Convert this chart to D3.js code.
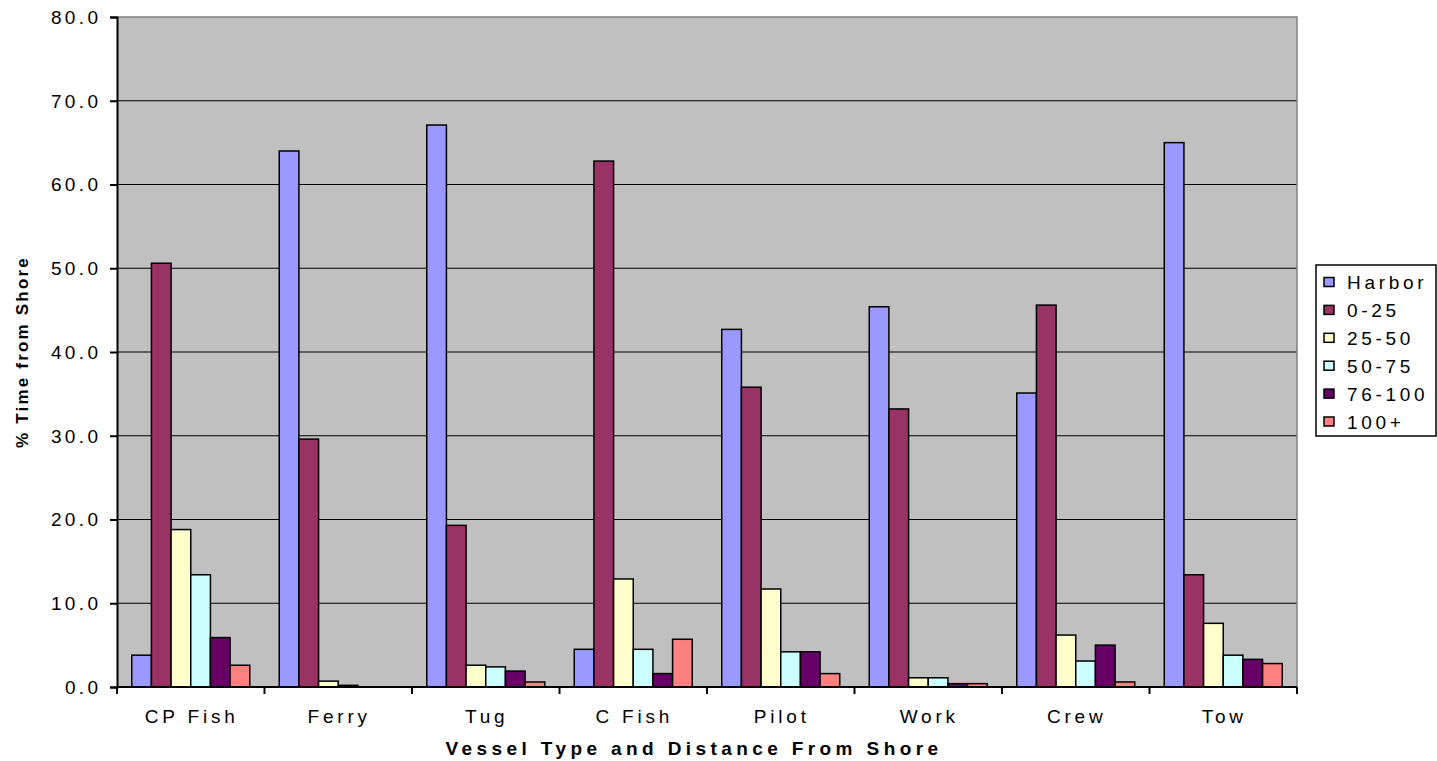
<!DOCTYPE html>
<html lang="en">
<head>
<meta charset="utf-8">
<script src="https://d3js.org/d3.v7.min.js"></script>
<style>
  body { margin: 0; background: #fff; }
  svg { display: block; font-family: Arial, "Liberation Sans", sans-serif; }
</style>
</head>
<body>
<svg id="chart" width="1437" height="761"></svg>
<script>
// vessel types along the x axis
const vessels = ["CP Fish", "Ferry", "Tug", "C Fish", "Pilot", "Work", "Crew", "Tow"];
// distance-from-shore series
const series = ["Harbor", "0-25", "25-50", "50-75", "76-100", "100+"];
const colors = ["#9999FF", "#993366", "#FFFFCC", "#CCFFFF", "#660066", "#FF8080"];

// % time values, one array per series, in vessel order
const harbor = [3.8, 64.0, 67.1, 4.5, 42.7, 45.4, 35.1, 65.0];
const d0_25 = [50.6, 29.6, 19.3, 62.8, 35.8, 33.2, 45.6, 13.4];
const d25_50 = [18.8, 0.7, 2.6, 12.9, 11.7, 1.1, 6.2, 7.6];
const d50_75 = [13.4, 0.2, 2.4, 4.5, 4.2, 1.1, 3.1, 3.8];
const d76_100 = [5.9, 0.0, 1.9, 1.6, 4.2, 0.4, 5.0, 3.3];
const d100p = [2.6, 0.0, 0.6, 5.7, 1.6, 0.4, 0.6, 2.8];

const yTicks = [0, 10, 20, 30, 40, 50, 60, 70, 80];

const values = [harbor, d0_25, d25_50, d50_75, d76_100, d100p];

const svg = d3.select("#chart");
const pLeft = 117, pRight = 1297, pTop = 17, pBottom = 687;

const x0 = d3.scaleBand().domain(vessels).range([pLeft, pRight]);
const bw = x0.bandwidth();
const x1 = d3.scaleBand().domain(series).range([bw * 0.1, bw * 0.9]);
const y = d3.scaleLinear().domain([0, 80]).range([pBottom, pTop]);

// plot background
svg.append("rect")
  .attr("x", pLeft).attr("y", pTop)
  .attr("width", pRight - pLeft).attr("height", pBottom - pTop)
  .attr("fill", "#C0C0C0");

// gridlines
svg.append("g").selectAll("line")
  .data(yTicks.filter(d => d > 0 && d < 80))
  .enter().append("line")
  .attr("x1", pLeft).attr("x2", pRight)
  .attr("y1", d => y(d)).attr("y2", d => y(d))
  .attr("stroke", "#000").attr("stroke-width", 1.2);

// top + right border of plot area
svg.append("path")
  .attr("d", `M${pLeft},${pTop}H${pRight}V${pBottom}`)
  .attr("fill", "none").attr("stroke", "#808080").attr("stroke-width", 1.5);

// bars
const groups = svg.append("g").selectAll("g")
  .data(vessels)
  .enter().append("g")
  .attr("transform", d => `translate(${x0(d)},0)`);

groups.selectAll("rect")
  .data((v, i) => series.map((s, j) => ({ s: s, j: j, v: values[j][i] })).filter(d => d.v > 0))
  .enter().append("rect")
  .attr("x", d => x1(d.s))
  .attr("width", x1.bandwidth())
  .attr("y", d => y(d.v))
  .attr("height", d => y(0) - y(d.v))
  .attr("fill", d => colors[d.j])
  .attr("stroke", "#000")
  .attr("stroke-width", 1.5);

// y axis
const yAxis = d3.axisLeft(y).tickValues(yTicks).tickSize(7).tickPadding(14)
  .tickFormat(d3.format(".1f"));
const yG = svg.append("g").attr("transform", `translate(${pLeft},0)`).call(yAxis);
yG.select(".domain").attr("stroke", "#000").attr("stroke-width", 2);
yG.selectAll(".tick line").attr("stroke", "#000").attr("stroke-width", 2);
yG.selectAll("text")
  .attr("font-size", 19).attr("fill", "#000")
  .attr("letter-spacing", "3.4px").attr("dx", 5.5).attr("dy", "0.34em")
  .style("font-family", "Arial, 'Liberation Sans', sans-serif");

// x axis, ticks at band edges
const xAxisG = svg.append("g");
xAxisG.append("line")
  .attr("x1", pLeft).attr("x2", pRight)
  .attr("y1", pBottom).attr("y2", pBottom)
  .attr("stroke", "#000").attr("stroke-width", 2);
xAxisG.selectAll(".xt")
  .data(vessels.map(v => x0(v)).concat([pRight]))
  .enter().append("line")
  .attr("class", "xt")
  .attr("x1", d => d).attr("x2", d => d)
  .attr("y1", pBottom).attr("y2", pBottom + 7)
  .attr("stroke", "#000").attr("stroke-width", 2);
xAxisG.selectAll(".xl")
  .data(vessels)
  .enter().append("text")
  .attr("class", "xl")
  .attr("x", d => x0(d) + bw / 2 + 1)
  .attr("y", 723)
  .attr("text-anchor", "middle")
  .attr("font-size", 19)
  .attr("letter-spacing", "3.8px")
  .text(d => d);

// axis titles
svg.append("text")
  .attr("x", 694)
  .attr("y", 755)
  .attr("text-anchor", "middle")
  .attr("font-size", 19).attr("font-weight", "bold")
  .attr("letter-spacing", "4.4px")
  .text("Vessel Type and Distance From Shore");

svg.append("text")
  .attr("transform", `translate(28,${(pTop + pBottom) / 2}) rotate(-90)`)
  .attr("text-anchor", "middle")
  .attr("font-size", 17).attr("font-weight", "bold")
  .attr("letter-spacing", "2.2px")
  .text("% Time from Shore");

// legend
const lg = svg.append("g");
lg.append("rect")
  .attr("x", 1316).attr("y", 265)
  .attr("width", 120).attr("height", 171)
  .attr("fill", "#fff").attr("stroke", "#000").attr("stroke-width", 1.5);
const items = lg.selectAll(".item")
  .data(series)
  .enter().append("g")
  .attr("class", "item")
  .attr("transform", (d, i) => `translate(1324,${282 + i * 27.9})`);
items.append("rect")
  .attr("x", 0).attr("y", -4.5)
  .attr("width", 10).attr("height", 9)
  .attr("fill", (d, i) => colors[i])
  .attr("stroke", "#000").attr("stroke-width", 1.5);
items.append("text")
  .attr("x", 23).attr("y", 7)
  .attr("font-size", 19)
  .attr("letter-spacing", "3.7px")
  .text(d => d);
</script>
</body>
</html>
